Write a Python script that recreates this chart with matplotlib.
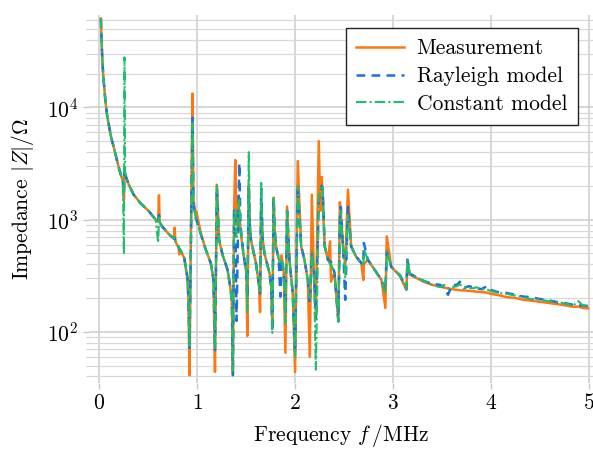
import numpy as np
import matplotlib
matplotlib.use('Agg')
import matplotlib.pyplot as plt
from matplotlib.ticker import LogLocator, NullFormatter

# frequency grid in MHz, shared by all three curves
freq = [0.015, 0.02, 0.027, 0.038, 0.05, 0.061, 0.078, 0.095, 0.12, 0.147,
        0.175, 0.198, 0.225, 0.24, 0.25, 0.256, 0.262, 0.275, 0.30, 0.35,
        0.42, 0.505, 0.574, 0.60, 0.608, 0.615, 0.64, 0.71, 0.76, 0.768,
        0.775, 0.81, 0.815, 0.82, 0.864, 0.898, 0.908, 0.92, 0.935, 0.95,
        0.96, 0.975, 0.984, 0.99, 1.035, 1.086, 1.137, 1.165, 1.18, 1.199,
        1.222, 1.257, 1.308, 1.335, 1.352, 1.363, 1.375, 1.387, 1.40, 1.415,
        1.428, 1.44, 1.47, 1.50, 1.51, 1.525, 1.535, 1.547, 1.598, 1.63,
        1.64, 1.652, 1.665, 1.684, 1.735, 1.755, 1.765, 1.779, 1.79, 1.803,
        1.83, 1.848, 1.86, 1.882, 1.899, 1.916, 1.94, 1.974, 1.998, 2.025,
        2.06, 2.093, 2.128, 2.148, 2.169, 2.19, 2.21, 2.24, 2.255, 2.27,
        2.28, 2.30, 2.333, 2.355, 2.365, 2.40, 2.44, 2.455, 2.465, 2.487,
        2.51, 2.538, 2.57, 2.62, 2.674, 2.695, 2.70, 2.74, 2.81, 2.88,
        2.92, 2.934, 2.98, 3.07, 3.135, 3.145, 3.17, 3.31, 3.40, 3.48,
        3.52, 3.56, 3.60, 3.65, 3.68, 3.72, 3.77, 3.82, 3.85, 3.90,
        3.955, 3.99, 4.08, 4.16, 4.25, 4.33, 4.40, 4.50, 4.58, 4.67,
        4.76, 4.84, 4.89, 4.93, 4.99]

# |Z| in Ohm
measurement = [62000, 44000, 30000, 19800, 14800, 11400, 8600, 7050, 5400, 4400,
               3500, 2910, 2400, 2200, 1500, 2600, 2500, 2350, 2050, 1670,
               1400, 1190, 1000, 960, 1650, 950, 870, 740, 680, 850,
               640, 560, 490, 540, 460, 300, 200, 41, 900, 13300,
               1500, 1200, 1100, 1180, 760, 540, 410, 290, 44, 2050,
               660, 487, 358, 255, 190, 42, 1200, 3400, 900, 1600,
               1100, 800, 500, 340, 92, 2000, 900, 660, 410, 260,
               150, 1430, 700, 505, 337, 250, 110, 1570, 800, 580,
               450, 410, 480, 337, 65, 1310, 440, 222, 44, 3330,
               580, 440, 290, 60, 1670, 337, 150, 5000, 1200, 2400,
               1500, 580, 440, 640, 280, 337, 124, 1430, 1100, 580,
               400, 1850, 580, 470, 410, 290, 400, 440, 358, 290,
               163, 710, 380, 313, 237, 425, 323, 280, 262, 253,
               248, 244, 240, 237, 235, 234, 232, 230, 228, 226,
               224, 219, 212, 204, 200, 193, 190, 185, 181, 177,
               172, 167, 168, 164, 162]

rayleigh = [62000, 44000, 30000, 19800, 14800, 11400, 8600, 7050, 5400, 4400,
            3500, 2910, 2400, 2200, 1700, 2900, 2600, 2350, 2050, 1670,
            1400, 1190, 1000, 950, 1100, 950, 870, 740, 680, 690,
            650, 570, 540, 550, 470, 310, 210, 72, 700, 8100,
            1400, 1150, 1030, 1000, 740, 540, 410, 290, 69, 1950,
            660, 487, 358, 255, 190, 41, 1200, 1250, 125, 800,
            3200, 900, 500, 340, 200, 1900, 900, 660, 410, 260,
            220, 1900, 700, 505, 337, 250, 100, 1570, 800, 580,
            450, 206, 450, 337, 150, 1200, 440, 222, 65, 2000,
            580, 440, 290, 180, 500, 337, 130, 1500, 1700, 2000,
            1900, 580, 440, 420, 420, 337, 124, 1000, 1300, 580,
            193, 1300, 580, 470, 410, 400, 620, 440, 358, 290,
            230, 520, 380, 320, 240, 440, 330, 285, 268, 262,
            250, 214, 262, 262, 280, 245, 255, 250, 245, 240,
            255, 237, 225, 222, 214, 206, 204, 196, 192, 184,
            180, 174, 172, 172, 170]

constant = [62000, 44000, 30000, 19800, 14800, 11400, 8600, 7050, 5400, 4400,
            3500, 2910, 2400, 2100, 490, 28000, 2700, 2350, 2050, 1670,
            1400, 1190, 1000, 620, 1050, 950, 870, 740, 680, 700,
            650, 570, 550, 550, 470, 310, 210, 75, 650, 7300,
            1300, 1150, 1030, 1000, 740, 540, 410, 290, 69, 2000,
            660, 487, 358, 255, 190, 45, 1200, 1250, 700, 900,
            1500, 850, 500, 340, 150, 4000, 1000, 660, 410, 260,
            220, 2200, 700, 505, 337, 250, 98, 1600, 800, 580,
            450, 400, 450, 337, 120, 1200, 440, 222, 60, 2000,
            580, 440, 290, 200, 520, 337, 46, 1500, 1900, 2000,
            2000, 580, 440, 400, 400, 337, 124, 1000, 1200, 580,
            300, 1100, 580, 470, 410, 400, 550, 440, 358, 290,
            220, 520, 380, 320, 240, 440, 330, 285, 262, 250,
            262, 245, 250, 255, 265, 250, 245, 245, 250, 238,
            240, 232, 222, 218, 210, 204, 196, 194, 188, 186,
            178, 172, 188, 174, 168]

plt.rcParams['font.family'] = 'serif'
plt.rcParams['font.serif'] = ['cmr10']
plt.rcParams['mathtext.fontset'] = 'cm'
plt.rcParams['axes.formatter.use_mathtext'] = True
plt.rcParams['font.size'] = 15.5

fig = plt.figure(figsize=(5.93, 4.49), dpi=100)
ax = fig.add_axes([0.150, 0.147, 0.850, 0.82])

ax.plot(freq, measurement, color='#ff7710', lw=1.8, label='Measurement')
ax.plot(freq, rayleigh, color='#1f6fd6', lw=1.8, ls=(0, (3.5, 2.5)),
        label='Rayleigh model')
ax.plot(freq, constant, color='#1fbf6a', lw=1.5, ls=(0, (5, 1.5, 1, 1.5)),
        label='Constant model')

ax.set_yscale('log')
ax.set_xlim(-0.107, 5.04)
ax.set_ylim(35, 67000)
ax.set_xticks([0, 1, 2, 3, 4, 5])
ax.yaxis.set_major_locator(LogLocator(base=10, numticks=10))
ax.yaxis.set_minor_locator(LogLocator(base=10, subs=np.arange(2, 10), numticks=20))
ax.yaxis.set_minor_formatter(NullFormatter())

ax.grid(True, which='major', color='#d0d0d0', lw=1.2)
ax.grid(True, which='minor', axis='y', color='#d8d8d8', lw=0.9)
ax.set_axisbelow(True)
for s in ax.spines.values():
    s.set_visible(False)
ax.tick_params(which='major', length=4, width=1, color='#c8c8c8')
ax.tick_params(which='minor', length=2.5, width=0.8, color='#d0d0d0')

ax.set_xlabel('Frequency $f\\,$/MHz', labelpad=6)
ax.set_ylabel('Impedance $|Z|/\\mathit{\\Omega}$', labelpad=8)

leg = ax.legend(loc='upper right', bbox_to_anchor=(0.970, 0.964), fancybox=False,
                framealpha=1, edgecolor='#222222', handlelength=2.2,
                borderpad=0.5, labelspacing=0.38, handletextpad=0.6,
                borderaxespad=0)
leg.get_frame().set_linewidth(1.0)

fig.savefig('out.png', dpi=100)
